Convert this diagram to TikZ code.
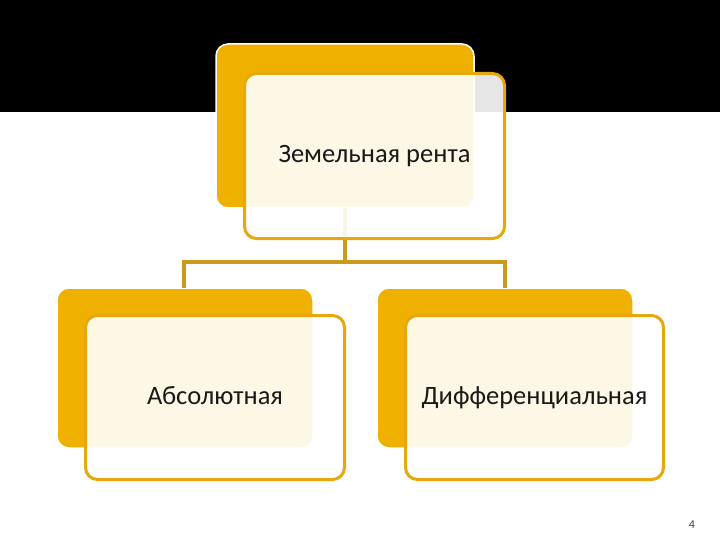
\documentclass[tikz,border=0pt]{standalone}
\usepackage{fontspec}
\setmainfont{Carlito}
\definecolor{gold}{HTML}{F0B000}
\definecolor{goldedge}{HTML}{E6A80A}
\definecolor{linkc}{HTML}{C99A1E}
\begin{document}
\begin{tikzpicture}[x=1pt,y=-1pt,
  backbox/.style={draw=white,line width=1.5pt,fill=gold,rounded corners=12pt},
  frontbox/.style={draw=goldedge,line width=3pt,fill=white,fill opacity=0.9,draw opacity=1,rounded corners=12pt,text opacity=1},
  link/.style={draw=linkc,line width=3.5pt},
  lbl/.style={font=\fontsize{26.5}{30}\selectfont,text=black!90,text height=17pt,text depth=4pt}]
\useasboundingbox (0,0) rectangle (720,540);
\fill[white] (0,0) rectangle (720,540);
\fill[black] (0,0) rectangle (720,112);
% back boxes
\draw[backbox] (216,44) rectangle (474,208);
\draw[backbox] (57,288) rectangle (313,448);
\draw[backbox] (377,288) rectangle (633,448);
% connectors
\coordinate (top) at (345,208);
\coordinate (mid) at (345,262);
\coordinate (la) at (184,262);
\coordinate (ra) at (505,262);
\coordinate (lb) at (184,288);
\coordinate (rb) at (505,288);
\draw[link] (top) -- (mid);
\draw[link] (lb) -- (la) -- (ra) -- (rb);
% front boxes
\node[frontbox,minimum width=260pt,minimum height=165pt,inner sep=0pt] (root) at (374.5,156) {};
\node[lbl] (roott) at (root.center) {Земельная рента};
\node[frontbox,minimum width=259pt,minimum height=164pt,inner sep=0pt] (abs) at (215,397.5) {};
\node[lbl] (abst) at (abs.center) {Абсолютная};
\node[frontbox,minimum width=258pt,minimum height=164pt,inner sep=0pt] (dif) at (534.5,397.5) {};
\node[lbl] (dift) at (dif.center) {Дифференциальная};
\node[font=\fontsize{12}{14}\selectfont,text=black!75] (pg) at (692,525) {4};
\end{tikzpicture}
\end{document}
